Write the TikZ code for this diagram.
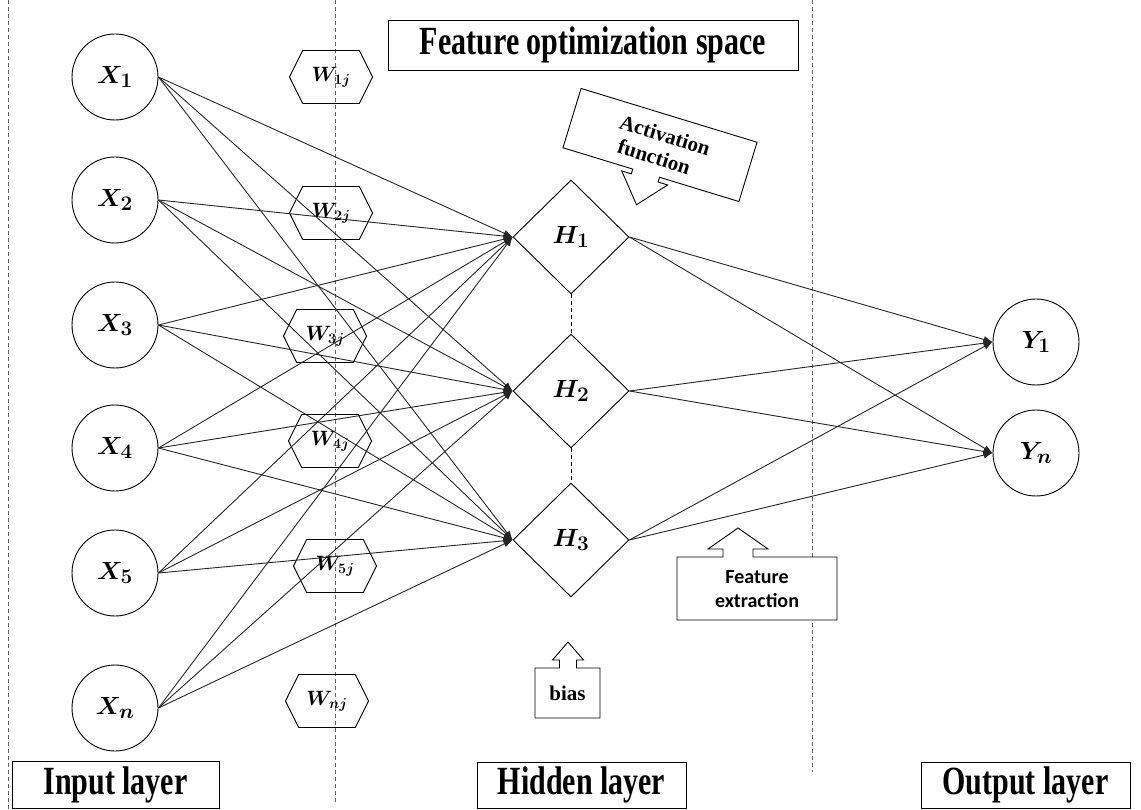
\documentclass[tikz,border=0pt]{standalone}
\usepackage{fontspec}
\usepackage{bm}
\usetikzlibrary{shapes.geometric,shapes.symbols,arrows.meta}
\newfontfamily\labfont[FakeStretch=0.75]{Liberation Serif}
\newfontfamily\serfont{Liberation Serif}
\newfontfamily\sansfont{Carlito}

\tikzset{
  neuron/.style={circle,draw,line width=0.9pt,minimum size=86pt,inner sep=0pt,fill=white,
    font=\fontsize{28}{32}\selectfont},
  hid/.style={diamond,draw,line width=0.9pt,minimum width=116pt,minimum height=114pt,
    inner sep=0pt,font=\fontsize{29}{32}\selectfont},
  wbox/.style={signal,signal to=east and west,signal pointer angle=127,draw,line width=0.9pt,
    minimum width=83pt,minimum height=53pt,inner sep=0pt,font=\fontsize{21}{24}\selectfont},
  layerbox/.style={draw,line width=0.9pt,fill=white,inner sep=0pt,
    font=\labfont\bfseries\fontsize{40}{44}\selectfont},
  link/.style={draw=black!85,line width=0.9pt,-{Latex[length=9pt,width=7pt]}},
  divider/.style={draw=black!60,dash pattern=on 4pt off 3pt,line width=0.8pt},
  callout/.style={draw,line width=0.9pt,fill=white},
  gap/.style={draw,dash pattern=on 4pt off 3pt,line width=0.8pt},
}

\begin{document}
\begin{tikzpicture}[x=1pt,y=1pt]
\useasboundingbox (0,0) rectangle (1141,-810);

% layer dividers
\draw[divider] (8,0) -- (8,-810);
\draw[divider] (335,0) -- (335,-802);
\draw[divider] (812,0) -- (812,-772);

% input neurons
\node[neuron] (x1) at (115,-77)  {$\bm{X}_{\bm{1}}$};
\node[neuron] (x2) at (115,-200) {$\bm{X}_{\bm{2}}$};
\node[neuron] (x3) at (115,-325) {$\bm{X}_{\bm{3}}$};
\node[neuron] (x4) at (115,-448) {$\bm{X}_{\bm{4}}$};
\node[neuron] (x5) at (115,-573) {$\bm{X}_{\bm{5}}$};
\node[neuron] (x6) at (115,-708) {$\bm{X}_{\bm{n}}$};

% weights
\node[wbox] (w1) at (331,-77)  {$\bm{W}_{\bm{1j}}$};
\node[wbox] (w2) at (331,-213) {$\bm{W}_{\bm{2j}}$};
\node[wbox] (w3) at (325,-336) {$\bm{W}_{\bm{3j}}$};
\node[wbox] (w4) at (330,-441) {$\bm{W}_{\bm{4j}}$};
\node[wbox] (w5) at (335,-566) {$\bm{W}_{\bm{5j}}$};
\node[wbox] (w6) at (327,-701) {$\bm{W}_{\bm{nj}}$};

% hidden units
\node[hid] (h1) at (571,-237) {$\bm{H}_{\bm{1}}$};
\node[hid] (h2) at (571,-391) {$\bm{H}_{\bm{2}}$};
\node[hid] (h3) at (571,-540) {$\bm{H}_{\bm{3}}$};
\draw[gap] (h1.south) -- (h2.north);
\draw[gap] (h2.south) -- (h3.north);

% output neurons
\node[neuron] (y1) at (1036,-342) {$\bm{Y}_{\bm{1}}$};
\node[neuron] (y2) at (1036,-453) {$\bm{Y}_{\bm{n}}$};

% connections
\foreach \i in {1,...,6}
  \foreach \j in {1,2,3}
    \draw[link] (x\i.east) -- (h\j.west);
\foreach \j in {1,2,3}
  \foreach \k in {1,2}
    \draw[link] (h\j.east) -- (y\k.west);

% titles
\node[layerbox,minimum width=410pt,minimum height=50pt] (space) at (593,-45) {Feature optimization space};
\node[layerbox,minimum width=207pt,minimum height=47pt] (inlayer) at (115.5,-784.5) {Input layer};
\node[layerbox,minimum width=209pt,minimum height=46pt] (hidlayer) at (581.5,-785) {Hidden layer};
\node[layerbox,minimum width=209pt,minimum height=46pt] (outlayer) at (1025.5,-785) {Output layer};

% activation function callout
\begin{scope}[shift={(660,-145)},rotate=-17]
  \draw[callout] (-92,31) -- (92,31) -- (92,-31) -- (9,-31) -- (9,-36) -- (19,-36)
    -- (-5,-64) -- (-29,-36) -- (-19,-36) -- (-19,-31) -- (-92,-31) -- cycle;
  \node[rotate=-17,font=\serfont\bfseries\fontsize{21}{24}\selectfont] (act1) at (2,11) {Activation};
  \node[rotate=-17,font=\serfont\bfseries\fontsize{21}{24}\selectfont] (act2) at (-2,-13) {function};
\end{scope}

% feature extraction callout
\draw[callout] (677,-620) -- (677,-557) -- (723,-557) -- (723,-549) -- (708,-549) -- (738,-528)
  -- (768,-549) -- (753,-549) -- (753,-557) -- (837,-557) -- (837,-620) -- cycle;
\node[align=center,font=\sansfont\bfseries\fontsize{20}{24}\selectfont] (fext) at (757,-589) {Feature\\extraction};

% bias callout
\draw[callout] (535,-718) -- (535,-668) -- (559.5,-668) -- (559.5,-660) -- (552.5,-660) -- (568,-642)
  -- (583.5,-660) -- (576.5,-660) -- (576.5,-668) -- (600,-668) -- (600,-718) -- cycle;
\node[font=\serfont\bfseries\fontsize{21}{24}\selectfont] (bias) at (567.5,-693) {bias};
\end{tikzpicture}
\end{document}
